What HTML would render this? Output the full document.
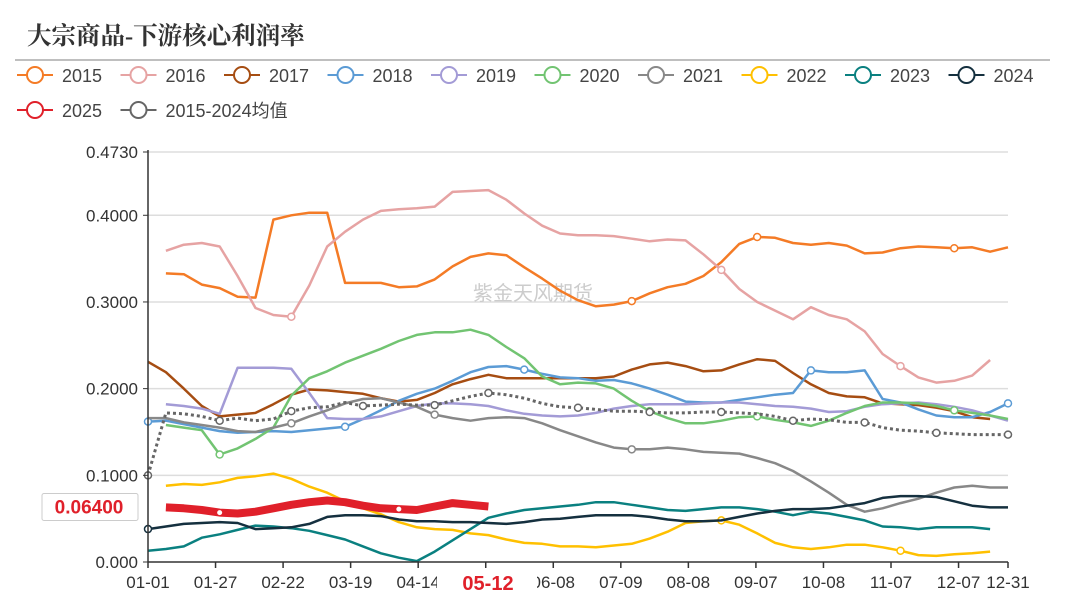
<!DOCTYPE html>
<html><head><meta charset="utf-8">
<style>
html,body{margin:0;padding:0;background:#fff;}
svg{display:block;font-family:"Liberation Sans","Noto Sans CJK SC",sans-serif;}
</style></head>
<body>
<svg id="chart" width="1065" height="600" viewBox="0 0 1065 600">
  <text x="27" y="44" font-size="24.5" font-weight="bold" fill="#333" font-family="'Liberation Serif','Noto Serif CJK SC',serif">大宗商品-下游核心利润率</text>
  <line x1="15" y1="60" x2="1050" y2="60" stroke="#aaa" stroke-width="1.5"/>
  <g id="grid"></g>
  <text x="533" y="300" font-size="20" fill="#ccc" text-anchor="middle">紫金天风期货</text>
  <g id="series"></g>
  <g id="axes"></g>
  <g id="legend"></g>
</svg>
<script>
const yTicks = [0, 0.1, 0.2, 0.3, 0.4, 0.473];
const yTickLabels = ["0.000","0.1000","0.2000","0.3000","0.4000","0.4730"];
const xTickLabels = ["01-01","01-27","02-22","03-19","04-14","05-12","06-08","07-09","08-08","09-07","10-08","11-07","12-07","12-31"];
const seriesNames = ["2015","2016","2017","2018","2019","2020","2021","2022","2023","2024","2025","2015-2024均值"];
const v2015 = [null,0.333,0.332,0.320,0.316,0.306,0.305,0.395,0.400,0.403,0.403,0.322,0.322,0.322,0.317,0.318,0.326,0.341,0.352,0.356,0.354,0.340,0.327,0.313,0.302,0.295,0.297,0.301,0.310,0.317,0.321,0.330,0.346,0.367,0.375,0.374,0.368,0.366,0.368,0.365,0.356,0.357,0.362,0.364,0.363,0.362,0.363,0.358,0.363];
const v2016 = [null,0.359,0.366,0.368,0.364,0.330,0.293,0.285,0.283,0.319,0.364,0.381,0.395,0.405,0.407,0.408,0.410,0.427,0.428,0.429,0.418,0.402,0.388,0.379,0.377,0.377,0.376,0.373,0.370,0.372,0.371,0.355,0.337,0.315,0.300,0.290,0.280,0.294,0.285,0.280,0.266,0.240,0.226,0.213,0.207,0.209,0.215,0.233,null];
const v2017 = [0.231,0.219,0.200,0.180,0.168,0.170,0.172,0.182,0.193,0.199,0.198,0.196,0.194,0.189,0.185,0.187,0.195,0.205,0.211,0.216,0.212,0.212,0.212,0.212,0.212,0.212,0.214,0.222,0.228,0.230,0.226,0.220,0.221,0.228,0.234,0.232,0.218,0.205,0.195,0.191,0.190,0.183,0.182,0.181,0.178,0.174,0.167,0.165,null];
const v2018 = [0.162,0.163,0.159,0.155,0.151,0.149,0.150,0.151,0.150,0.152,0.154,0.156,0.165,0.175,0.186,0.194,0.200,0.209,0.219,0.225,0.226,0.222,0.217,0.213,0.212,0.209,0.210,0.206,0.200,0.193,0.185,0.184,0.184,0.187,0.190,0.193,0.195,0.221,0.219,0.219,0.221,0.188,0.184,0.176,0.169,0.167,0.167,0.173,0.183];
const v2019 = [null,0.182,0.180,0.177,0.171,0.224,0.224,0.224,0.223,0.195,0.166,0.165,0.165,0.168,0.174,0.180,0.183,0.183,0.182,0.180,0.175,0.171,0.169,0.168,0.169,0.172,0.177,0.180,0.182,0.182,0.182,0.183,0.184,0.184,0.182,0.180,0.179,0.177,0.173,0.174,0.179,0.182,0.183,0.184,0.182,0.179,0.175,0.169,0.163];
const v2020 = [null,0.158,0.155,0.152,0.124,0.131,0.142,0.155,0.192,0.212,0.220,0.230,0.238,0.246,0.255,0.262,0.265,0.265,0.268,0.262,0.248,0.235,0.214,0.205,0.207,0.206,0.200,0.186,0.174,0.166,0.160,0.160,0.163,0.167,0.168,0.164,0.161,0.157,0.163,0.172,0.180,0.184,0.184,0.183,0.180,0.175,0.172,0.169,0.165];
const v2021 = [0.166,0.166,0.161,0.158,0.155,0.151,0.150,0.155,0.160,0.168,0.175,0.183,0.188,0.189,0.184,0.179,0.170,0.166,0.163,0.166,0.167,0.166,0.160,0.152,0.145,0.138,0.132,0.130,0.130,0.132,0.130,0.127,0.126,0.125,0.120,0.114,0.105,0.093,0.080,0.066,0.058,0.062,0.068,0.073,0.080,0.086,0.088,0.086,0.086];
const v2022 = [null,0.088,0.090,0.089,0.092,0.097,0.099,0.102,0.096,0.087,0.080,0.070,0.062,0.055,0.046,0.040,0.038,0.037,0.033,0.031,0.026,0.022,0.021,0.018,0.018,0.017,0.019,0.021,0.027,0.035,0.045,0.047,0.048,0.043,0.033,0.022,0.017,0.015,0.017,0.020,0.020,0.017,0.013,0.008,0.007,0.009,0.010,0.012,null];
const v2023 = [0.013,0.015,0.018,0.028,0.032,0.037,0.042,0.041,0.039,0.036,0.031,0.026,0.018,0.010,0.005,0.001,0.012,0.025,0.038,0.051,0.056,0.060,0.062,0.064,0.066,0.069,0.069,0.066,0.063,0.060,0.059,0.061,0.063,0.063,0.061,0.058,0.054,0.058,0.056,0.052,0.048,0.041,0.040,0.038,0.040,0.040,0.040,0.038,null];
const v2024 = [0.038,0.041,0.044,0.045,0.046,0.045,0.038,0.039,0.040,0.044,0.052,0.054,0.054,0.053,0.049,0.047,0.047,0.046,0.046,0.045,0.044,0.046,0.049,0.050,0.052,0.054,0.054,0.054,0.052,0.049,0.047,0.047,0.048,0.052,0.056,0.059,0.061,0.061,0.062,0.065,0.068,0.074,0.076,0.076,0.075,0.070,0.065,0.063,0.063];
const v2025 = [null,0.063,0.062,0.060,0.057,0.056,0.058,0.062,0.066,0.069,0.071,0.069,0.065,0.062,0.061,0.060,0.064,0.068,0.066,0.064];
const vMean = [0.100,0.172,0.171,0.168,0.163,0.166,0.163,0.165,0.174,0.178,0.179,0.184,0.180,0.181,0.182,0.181,0.181,0.186,0.191,0.195,0.193,0.189,0.183,0.179,0.178,0.176,0.174,0.174,0.173,0.172,0.172,0.173,0.173,0.172,0.171,0.168,0.163,0.165,0.164,0.161,0.161,0.155,0.152,0.151,0.149,0.148,0.147,0.147,0.147];
const latestLabel = "0.06400";
const latestDate = "05-12";

const NS = "http://www.w3.org/2000/svg";
const X0 = 148, X1 = 1008, Y0 = 562, YMAX = 0.473, YTOP = 152;
const NPTS = 49;
function xScale(i){ return X0 + i * (X1 - X0) / (NPTS - 1); }
function yScale(v){ return Y0 - v / YMAX * (Y0 - YTOP); }
function mk(tag, attrs, parent){ const e = document.createElementNS(NS, tag); for (const k in attrs) e.setAttribute(k, attrs[k]); parent.appendChild(e); return e; }

const grid = document.getElementById('grid');
const axes = document.getElementById('axes');
const seriesG = document.getElementById('series');
const legend = document.getElementById('legend');

yTicks.forEach((t, k) => {
  const y = yScale(t);
  if (t > 0) {
    const gl = mk('line', {x1: X0, x2: X1, y1: y, y2: y, stroke: '#ddd', 'stroke-width': 1.5}, grid);
    
    
  }
  const tk = mk('line', {x1: X0 - 5, x2: X0, y1: y, y2: y, stroke: '#333'}, axes);
  
  
  const lb = mk('text', {x: X0 - 10, y: y + 6, 'text-anchor': 'end', 'font-size': 17, fill: '#333'}, axes);
  lb.textContent = yTickLabels[k];
  
  
});
const ya = mk('line', {x1: X0, x2: X0, y1: YTOP - 2, y2: Y0, stroke: '#333', 'stroke-width': 1.5}, axes);


const xa = mk('line', {x1: X0, x2: X1, y1: Y0, y2: Y0, stroke: '#333', 'stroke-width': 1.5}, axes);



xTickLabels.forEach((lab, k) => {
  const idx = k < xTickLabels.length - 1 ? k * 3.77 : NPTS - 1;
  const x = xScale(idx);
  const tk = mk('line', {x1: x, x2: x, y1: Y0, y2: Y0 + 6, stroke: '#333', 'stroke-width': 1.5}, axes);
  
  
  if (lab === latestDate) return;
  const lb = mk('text', {x: x, y: Y0 + 26, 'text-anchor': 'middle', 'font-size': 17, fill: '#333'}, axes);
  lb.textContent = lab;
  
  
});

const colors = ["#f47b26","#e6a3a3","#a64d12","#5b9bd5","#a39bd6","#72c472","#888888","#ffc000","#0a8080","#15303f","#e0202a","#666666"];
const allData = [v2015,v2016,v2017,v2018,v2019,v2020,v2021,v2022,v2023,v2024,v2025,vMean];
const markerIdx = [[27,34,45],[8,32,42],[],[0,11,21,37,48],[],[4,28,34,45],[8,16,27],[32,42],[],[0],[4,14],[0,4,8,12,16,19,24,28,32,36,40,44,48]];

allData.forEach((arr, s) => {
  let d = '';
  let pen = false;
  arr.forEach((v, i) => {
    if (v === null) { pen = false; return; }
    d += (pen ? 'L' : 'M') + xScale(i).toFixed(1) + ' ' + yScale(v).toFixed(1) + ' ';
    pen = true;
  });
  const isMean = s === 11, isCur = s === 10;
  const p = mk('path', {d: d, fill: 'none', stroke: colors[s], 'stroke-width': isCur ? 8 : (isMean ? 3 : 2.5), 'stroke-linejoin': 'round', 'stroke-dasharray': isMean ? '3 3' : 'none'}, seriesG);
  
  
  markerIdx[s].forEach(i => {
    if (arr[i] == null) return;
    const c = mk('circle', {cx: xScale(i), cy: yScale(arr[i]), r: isCur ? 2.5 : 3.5, fill: '#fff', stroke: isCur ? 'none' : colors[s], 'stroke-width': 1.5}, seriesG);
    
    
  });
});

// legend
seriesNames.forEach((n, s) => {
  const row = s < 10 ? 0 : 1;
  const col = s < 10 ? s : s - 10;
  const x = 17 + col * 103.5, y = 75 + row * 35;
  const g = mk('g', {}, legend);
  
  
  mk('line', {x1: x, x2: x + 36, y1: y, y2: y, stroke: colors[s], 'stroke-width': 2}, g);
  mk('circle', {cx: x + 18, cy: y, r: 8, fill: '#fff', stroke: colors[s], 'stroke-width': 2}, g);
  const t = mk('text', {x: x + 45, y: y + 7, 'font-size': 18, fill: '#444'}, g);
  t.textContent = n;
});

// latest value label on y-axis
const boxG = mk('g', {}, axes);


const yl = yScale(0.064);
mk('rect', {x: 42, y: yl - 13, width: 96, height: 27, fill: '#fff', stroke: '#ccc', rx: 2}, boxG);
const vt = mk('text', {x: 89, y: yl + 7, 'text-anchor': 'middle', 'font-size': 19, 'font-weight': 'bold', fill: '#e0202a'}, boxG);
vt.textContent = latestLabel;

const dG = mk('g', {}, axes);


mk('rect', {x: 437, y: Y0 + 7, width: 100, height: 30, fill: '#fff'}, dG);
const dt = mk('text', {x: 488, y: Y0 + 28, 'text-anchor': 'middle', 'font-size': 20, 'font-weight': 'bold', fill: '#e0202a'}, dG);
dt.textContent = latestDate;
</script>
</body></html>
